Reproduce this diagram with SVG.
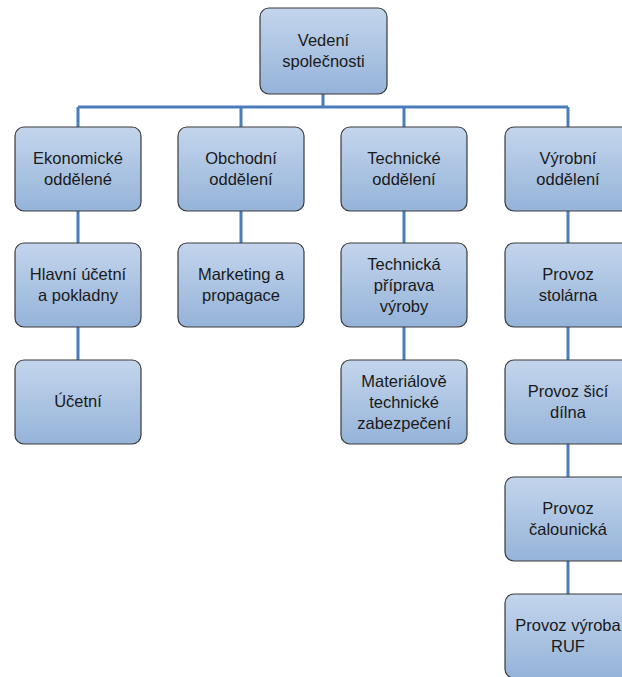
<svg xmlns="http://www.w3.org/2000/svg" width="622" height="677" viewBox="0 0 622 677">
<defs>
<linearGradient id="g" x1="0" y1="0" x2="0" y2="1">
<stop offset="0" stop-color="#c3d5ec"/>
<stop offset="1" stop-color="#95b3d9"/>
</linearGradient>
<style>
.box{fill:url(#g);stroke:#3a3a3a;stroke-width:1.2}
.t{font-family:"Liberation Sans",Arial,sans-serif;font-size:16.5px;fill:#1a1a1a;text-anchor:middle}
.c{stroke:#4a7ebb;stroke-width:3;fill:none}
</style>
</defs>
<rect width="622" height="677" fill="#ffffff"/>
<g id="connectors">
<path class="c" d="M323 94V107M78 107H568M78 107V127M241 107V127M404 107V127M568 107V127"/>
<path class="c" d="M78 211V243M78 327V360M241 211V243M404 211V243M404 327V360M568 211V243M568 327V360M568 444V477M568 561V594"/>
</g>
<g id="n0"><rect class="box" x="260" y="8" width="127" height="86" rx="9"/><text class="t" x="323.5" y="46">Vedení</text><text class="t" x="323.5" y="67">společnosti</text></g>
<g id="n1"><rect class="box" x="15" y="127" width="126" height="84" rx="9"/><text class="t" x="78" y="164">Ekonomické</text><text class="t" x="78" y="185">oddělené</text></g>
<g id="n2"><rect class="box" x="178" y="127" width="126" height="84" rx="9"/><text class="t" x="241" y="164">Obchodní</text><text class="t" x="241" y="185">oddělení</text></g>
<g id="n3"><rect class="box" x="341" y="127" width="126" height="84" rx="9"/><text class="t" x="404" y="164">Technické</text><text class="t" x="404" y="185">oddělení</text></g>
<g id="n4"><rect class="box" x="505" y="127" width="126" height="84" rx="9"/><text class="t" x="568" y="164">Výrobní</text><text class="t" x="568" y="185">oddělení</text></g>
<g id="n5"><rect class="box" x="15" y="243" width="126" height="84" rx="9"/><text class="t" x="78" y="280">Hlavní účetní</text><text class="t" x="78" y="301">a pokladny</text></g>
<g id="n6"><rect class="box" x="178" y="243" width="126" height="84" rx="9"/><text class="t" x="241" y="280">Marketing a</text><text class="t" x="241" y="301">propagace</text></g>
<g id="n7"><rect class="box" x="341" y="243" width="126" height="84" rx="9"/><text class="t" x="404" y="270">Technická</text><text class="t" x="404" y="291">příprava</text><text class="t" x="404" y="312">výroby</text></g>
<g id="n8"><rect class="box" x="505" y="243" width="126" height="84" rx="9"/><text class="t" x="568" y="280">Provoz</text><text class="t" x="568" y="301">stolárna</text></g>
<g id="n9"><rect class="box" x="15" y="360" width="126" height="84" rx="9"/><text class="t" x="78" y="407">Účetní</text></g>
<g id="n10"><rect class="box" x="341" y="360" width="126" height="84" rx="9"/><text class="t" x="404" y="387">Materiálově</text><text class="t" x="404" y="408">technické</text><text class="t" x="404" y="429">zabezpečení</text></g>
<g id="n11"><rect class="box" x="505" y="360" width="126" height="84" rx="9"/><text class="t" x="568" y="397">Provoz šicí</text><text class="t" x="568" y="418">dílna</text></g>
<g id="n12"><rect class="box" x="505" y="477" width="126" height="84" rx="9"/><text class="t" x="568" y="514">Provoz</text><text class="t" x="568" y="535">čalounická</text></g>
<g id="n13"><rect class="box" x="505" y="594" width="126" height="84" rx="9"/><text class="t" x="568" y="631">Provoz výroba</text><text class="t" x="568" y="652">RUF</text></g>
</svg>
